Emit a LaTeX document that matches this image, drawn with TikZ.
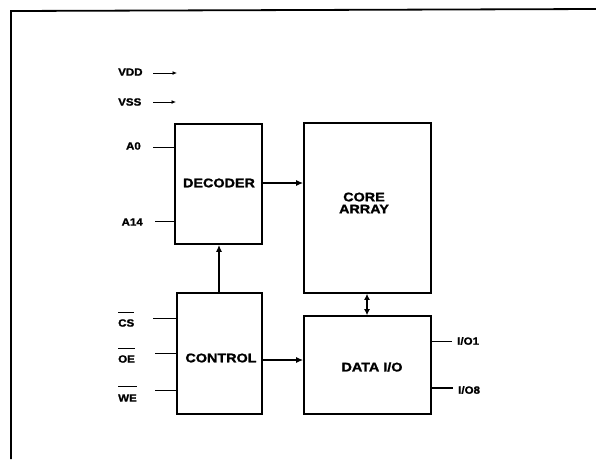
\documentclass[tikz,border=0pt]{standalone}
\usepackage{fontspec}
\setmainfont{Liberation Sans}
\newfontfamily\lblfont[FakeStretch=1.1,FakeBold=1.5]{Liberation Sans}
\newfontfamily\boxfont[FakeStretch=1.15,FakeBold=1.5]{Liberation Sans}
\usetikzlibrary{arrows.meta}
\begin{document}
\begin{tikzpicture}[x=1pt,y=-1pt,
  blk/.style={draw,line width=1.6pt},
  blklabel/.style={font=\boxfont\bfseries\fontsize{12.5}{13}\selectfont,inner sep=0pt,align=center},
  pinlabel/.style={font=\lblfont\bfseries\fontsize{10.5}{12}\selectfont,inner sep=0pt},
  pin/.style={line width=1pt},
  bus/.style={line width=1.8pt,-{Latex[length=7pt,width=6pt]}},
  dbus/.style={line width=1.8pt,{Latex[length=6pt,width=6pt]}-{Latex[length=6pt,width=6pt]}},
  pwr/.style={line width=1pt,-{Latex[length=4.5pt,width=4pt]}}]
\useasboundingbox (0,0) rectangle (596,459);
% frame
\draw[line width=1.8pt] (11,459) -- (11,11) -- (596,9);
% blocks
\node[blk,minimum width=87pt,minimum height=120pt,inner sep=0pt] (dec) at (218.5,184) {};
\node[blk,minimum width=127pt,minimum height=170pt,inner sep=0pt] (core) at (367.5,208) {};
\node[blk,minimum width=85pt,minimum height=121pt,inner sep=0pt] (ctl) at (219.5,353.5) {};
\node[blk,minimum width=127pt,minimum height=98pt,inner sep=0pt] (data) at (367.5,365) {};
\node[blklabel] (declbl) at (219,183) {DECODER};
\node[blklabel] (corelbl) at (364,203) {CORE\\[-1pt]ARRAY};
\node[blklabel] (ctllbl) at (221,358) {CONTROL};
\node[blklabel] (datalbl) at (372,367) {DATA I/O};
% internal connections
\draw[bus] (dec.east |- 0,183) -- (core.west |- 0,183);
\draw[bus] (ctl.north -| 219,0) -- (dec.south -| 219,0);
\draw[dbus] (core.south -| 367,0) -- (data.north -| 367,0);
\draw[bus] (ctl.east |- 0,360) -- (data.west |- 0,360);
% power
\node[pinlabel,anchor=west] (vdd) at (118,72) {VDD};
\node[pinlabel,anchor=west] (vss) at (118,102) {VSS};
\coordinate (vddend) at (177,73);
\coordinate (vssend) at (176,102);
\draw[pwr] (vdd.east -| 153,0) ++(0,1) -- (vddend);
\draw[pwr] (153,102) -- (vssend);
% address pins
\node[pinlabel,anchor=east] (a0) at (141,146) {A0};
\node[pinlabel,anchor=east] (a14) at (143,222) {A14};
\draw[pin] (153,147) -- (dec.west |- 0,147);
\draw[pin] (155,221) -- (dec.west |- 0,221);
% control pins
\node[pinlabel,anchor=west] (cs) at (118,323) {CS};
\node[pinlabel,anchor=west] (oe) at (118,359) {OE};
\node[pinlabel,anchor=west] (we) at (118,398) {WE};
\draw[line width=0.9pt] (cs.west |- 0,312) -- (cs.east |- 0,312);
\draw[line width=0.9pt] (oe.west |- 0,348) -- (oe.east |- 0,348);
\draw[line width=0.9pt] (we.west |- 0,386) -- (we.east |- 0,386);
\draw[pin] (153,318) -- (ctl.west |- 0,318);
\draw[pin] (155,353) -- (ctl.west |- 0,353);
\draw[pin] (155,390) -- (ctl.west |- 0,390);
% I/O pins
\node[pinlabel,anchor=west] (io1) at (457,341) {I/O1};
\node[pinlabel,anchor=west] (io8) at (458,390) {I/O8};
\draw[pin] (data.east |- 0,341) -- (452,341);
\draw[line width=1.8pt] (data.east |- 0,388) -- (453,388);
\end{tikzpicture}
\end{document}
